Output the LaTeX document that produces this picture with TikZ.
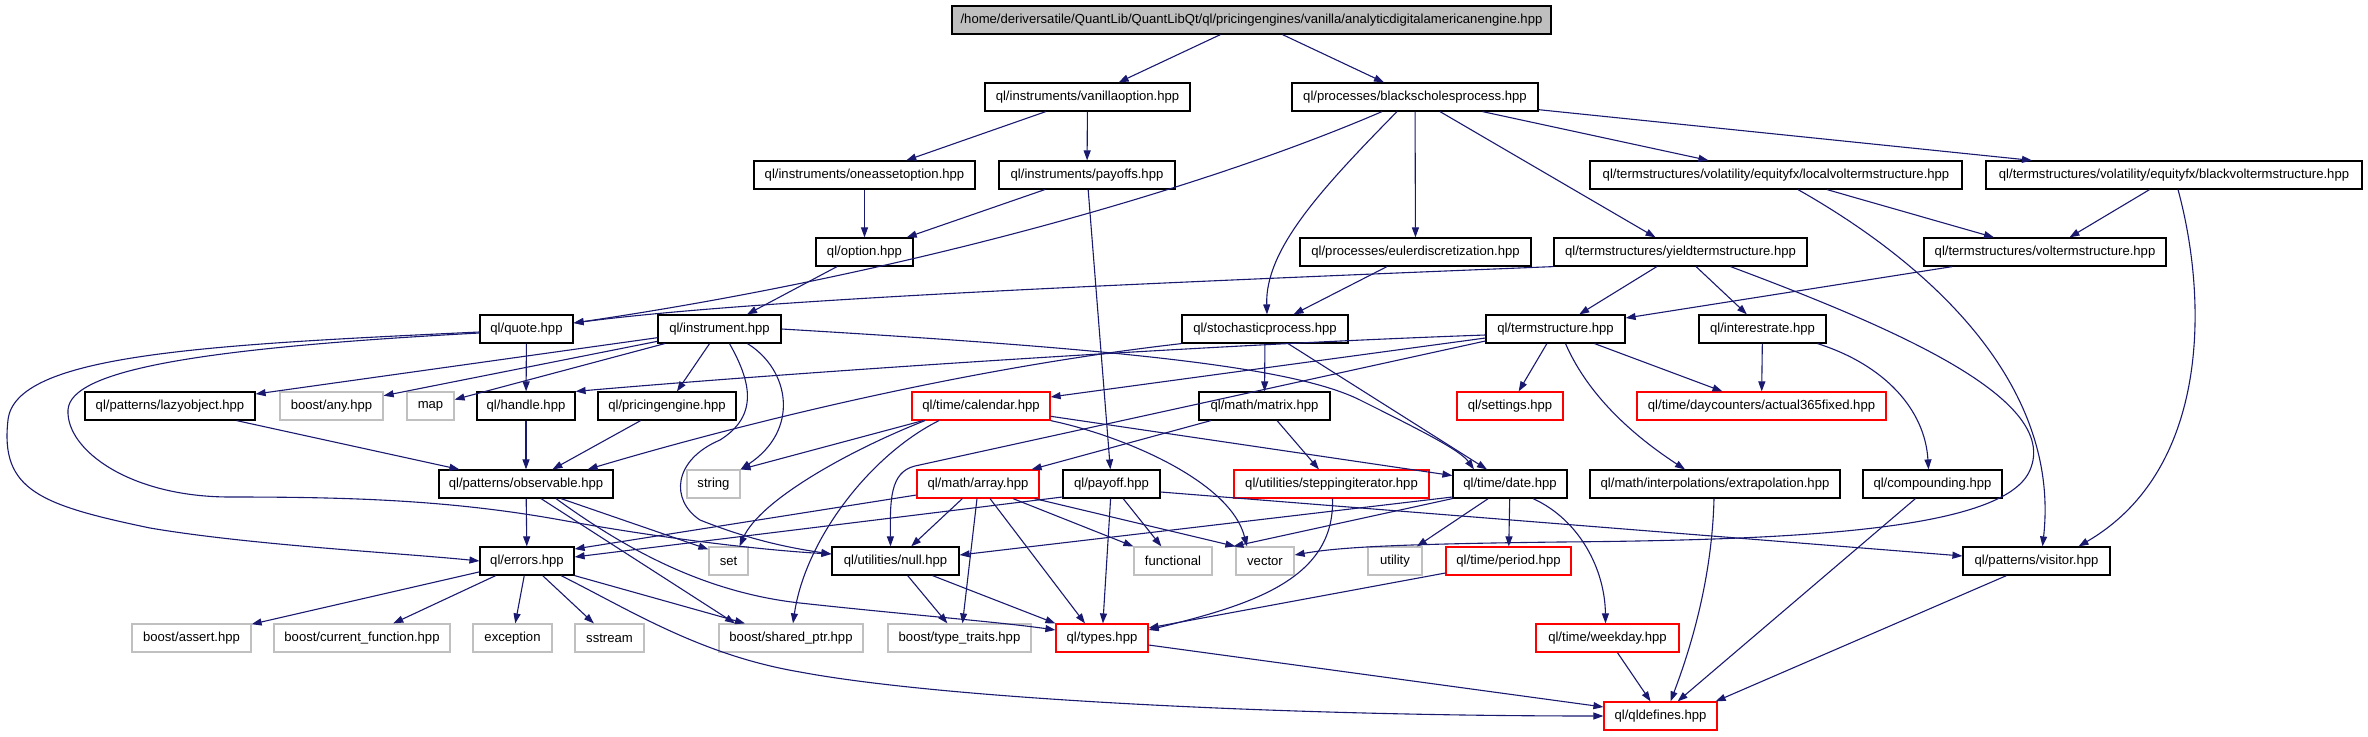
\documentclass[tikz,border=0pt]{standalone}
\usepackage{fontspec}
\setmainfont{Liberation Sans}
\usetikzlibrary{arrows.meta}
\definecolor{edgeblue}{HTML}{191970}
\definecolor{grayfill}{HTML}{BFBFBF}
\definecolor{grayline}{HTML}{C0C0C0}
\definecolor{redline}{HTML}{FF0000}
\newcommand\nodefont{\fontsize{13.1pt}{15pt}\selectfont}
\tikzset{
  nd/.style={draw=black, line width=1.2pt, minimum height=28pt, inner xsep=1pt, inner ysep=0pt, font=\nodefont, anchor=center, text=black},
  rd/.style={nd, draw=redline},
  gr/.style={nd, draw=grayline},
  mn/.style={nd, fill=grayfill},
  conn/.style={draw=edgeblue, line width=1.1pt, -{Triangle[length=10pt,width=7pt]}}
}
\begin{document}
\begin{tikzpicture}[x=1pt,y=-1pt]
\useasboundingbox (0,0) rectangle (2368,736);
% row 0
\node[mn, minimum width=599pt] (main) at (1251.5,20) {/home/deriversatile/QuantLib/QuantLibQt/ql/pricingengines/vanilla/analyticdigitalamericanengine.hpp};
% row 1
\node[nd, minimum width=205pt] (vanilla) at (1087.5,97) {ql/instruments/vanillaoption.hpp};
\node[nd, minimum width=246pt] (bsp) at (1415,97) {ql/processes/blackscholesprocess.hpp};
% row 2
\node[nd, minimum width=221pt] (oneasset) at (864.5,175) {ql/instruments/oneassetoption.hpp};
\node[nd, minimum width=176pt] (payoffs) at (1087,175) {ql/instruments/payoffs.hpp};
\node[nd, minimum width=372pt] (localvol) at (1776,175) {ql/termstructures/volatility/equityfx/localvoltermstructure.hpp};
\node[nd, minimum width=376pt] (blackvol) at (2174,175) {ql/termstructures/volatility/equityfx/blackvoltermstructure.hpp};
% row 3
\node[nd, minimum width=97pt] (option) at (864.5,252) {ql/option.hpp};
\node[nd, minimum width=231pt] (euler) at (1415.5,252) {ql/processes/eulerdiscretization.hpp};
\node[nd, minimum width=253pt] (yield) at (1680.5,252) {ql/termstructures/yieldtermstructure.hpp};
\node[nd, minimum width=242pt] (volts) at (2045,252) {ql/termstructures/voltermstructure.hpp};
% row 4
\node[nd, minimum width=93pt] (quote) at (526.5,329) {ql/quote.hpp};
\node[nd, minimum width=123pt] (instrument) at (719.5,329) {ql/instrument.hpp};
\node[nd, minimum width=166pt] (stoch) at (1265,329) {ql/stochasticprocess.hpp};
\node[nd, minimum width=139pt] (termst) at (1555.5,329) {ql/termstructure.hpp};
\node[nd, minimum width=127pt] (interest) at (1762.5,329) {ql/interestrate.hpp};
% row 5
\node[nd, minimum width=170pt] (lazy) at (170,406) {ql/patterns/lazyobject.hpp};
\node[gr, minimum width=103pt] (any) at (331.5,406) {boost/any.hpp};
\node[gr, minimum width=47pt] (map) at (430.5,406) {map};
\node[nd, minimum width=98pt] (handle) at (526,406) {ql/handle.hpp};
\node[nd, minimum width=138pt] (pe) at (667,406) {ql/pricingengine.hpp};
\node[rd, minimum width=138pt] (calendar) at (981,406) {ql/time/calendar.hpp};
\node[nd, minimum width=131pt] (matrix) at (1264.5,406) {ql/math/matrix.hpp};
\node[rd, minimum width=106pt] (settings) at (1510,406) {ql/settings.hpp};
\node[rd, minimum width=249pt] (act365) at (1761.5,406) {ql/time/daycounters/actual365fixed.hpp};
% row 6
\node[nd, minimum width=174pt] (observable) at (526,484) {ql/patterns/observable.hpp};
\node[gr, minimum width=53pt] (string) at (713.5,484) {string};
\node[rd, minimum width=122pt] (array) at (978,484) {ql/math/array.hpp};
\node[nd, minimum width=97pt] (payoff) at (1111.5,484) {ql/payoff.hpp};
\node[rd, minimum width=195pt] (stepping) at (1331.5,484) {ql/utilities/steppingiterator.hpp};
\node[nd, minimum width=114pt] (date) at (1510,484) {ql/time/date.hpp};
\node[nd, minimum width=250pt] (extrap) at (1715,484) {ql/math/interpolations/extrapolation.hpp};
\node[nd, minimum width=139pt] (compounding) at (1932.5,484) {ql/compounding.hpp};
% row 7
\node[nd, minimum width=94pt] (errors) at (527,561) {ql/errors.hpp};
\node[gr, minimum width=39pt] (set) at (728.5,561) {set};
\node[nd, minimum width=127pt] (null) at (895.5,561) {ql/utilities/null.hpp};
\node[gr, minimum width=78pt] (functional) at (1173,561) {functional};
\node[gr, minimum width=58pt] (vector) at (1265,561) {vector};
\node[gr, minimum width=54pt] (utility) at (1395,561) {utility};
\node[rd, minimum width=125pt] (period) at (1508.5,561) {ql/time/period.hpp};
\node[nd, minimum width=147pt] (visitor) at (2036.5,561) {ql/patterns/visitor.hpp};
% row 8
\node[gr, minimum width=119pt] (assert) at (191.5,638) {boost/assert.hpp};
\node[gr, minimum width=176pt] (curfunc) at (362,638) {boost/current\_function.hpp};
\node[gr, minimum width=79pt] (exception) at (512.5,638) {exception};
\node[gr, minimum width=69pt] (sstream) at (609.5,638) {sstream};
\node[gr, minimum width=144pt] (sharedptr) at (791,638) {boost/shared\_ptr.hpp};
\node[gr, minimum width=143pt] (typetraits) at (959.5,638) {boost/type\_traits.hpp};
\node[rd, minimum width=92pt] (types) at (1102,638) {ql/types.hpp};
\node[rd, minimum width=143pt] (weekday) at (1607.5,638) {ql/time/weekday.hpp};
% row 9
\node[rd, minimum width=113pt] (qldefines) at (1660.5,716) {ql/qldefines.hpp};

% ---------- connectors ----------
\draw[conn] (main) -- (vanilla);
\draw[conn] (main) -- (bsp);
\draw[conn] (vanilla) -- (oneasset);
\draw[conn] (vanilla) -- (payoffs);
\draw[conn] ([xshift=-33pt]bsp.south) .. controls (1200,190) and (900,275) .. ([yshift=6pt]quote.east);
\draw[conn] ([xshift=-18pt]bsp.south) .. controls (1320,190) and (1265,250) .. ([xshift=2pt]stoch.north);
\draw[conn] (bsp) -- (euler);
\draw[conn] (bsp) -- (yield);
\draw[conn] (bsp) -- (localvol);
\draw[conn] (bsp) -- (blackvol);
\draw[conn] (oneasset) -- (option);
\draw[conn] (payoffs) -- (option);
\draw[conn] (payoffs) -- (payoff);
\draw[conn] (localvol) -- (volts);
\draw[conn] ([xshift=22pt]localvol.south) .. controls (1940,270) and (2060,390) .. ([xshift=6pt]visitor.north);
\draw[conn] (blackvol) -- (volts);
\draw[conn] ([xshift=4pt]blackvol.south) .. controls (2208,300) and (2210,470) .. ([xshift=42pt]visitor.north);
\draw[conn] (option) -- (instrument);
\draw[conn] (euler) -- (stoch);
\draw[conn] (yield.south west) .. controls (1100,285) and (750,300) .. ([yshift=6pt]quote.east);
\draw[conn] (yield) -- (termst);
\draw[conn] (yield) -- (interest);
\draw[conn] ([xshift=50pt]yield.south) .. controls (1900,330) and (2060,400) .. (2030,470) .. controls (2005,530) and (1800,540) .. (1560,542) .. controls (1400,544) and (1340,547) .. ([yshift=6pt]vector.east);
\draw[conn] (volts) -- (termst);
\draw[conn] (quote) -- (handle);
\draw[conn] ([yshift=-3pt]quote.west) .. controls (200,345) and (15,355) .. (8,420) .. controls (0,490) and (40,505) .. (150,528) .. controls (250,545) and (400,553) .. (errors.west);
\draw[conn] ([yshift=-4pt]quote.west) .. controls (200,348) and (70,370) .. (68,410) .. controls (66,450) and (130,497) .. (230,497) .. controls (350,497) and (450,500) .. (561,520) .. controls (660,538) and (760,550) .. ([yshift=7pt]null.west);
\draw[conn] (instrument) -- (lazy);
\draw[conn] (instrument) -- (any);
\draw[conn] (instrument) -- (map);
\draw[conn] (instrument) -- (pe);
\draw[conn] ([xshift=28pt]instrument.south) .. controls (790,370) and (800,430) .. (string.north east);
\draw[conn] ([xshift=10pt]instrument.south) .. controls (750,380) and (760,415) .. (720,440) .. controls (673,460) and (670,500) .. (700,520) .. controls (750,540) and (790,548) .. ([yshift=7pt]null.west);
\draw[conn] (instrument.east) .. controls (1100,348) and (1290,365) .. (1360,400) .. controls (1420,430) and (1460,450) .. ([xshift=-36pt]date.north);
\draw[conn] (pe) -- (observable);
\draw[conn] (lazy) -- (observable);
\draw[conn] (handle) -- (observable);
\draw[conn] (stoch.south west) .. controls (950,370) and (720,430) .. ([xshift=-26pt]observable.north east);
\draw[conn] (stoch) -- (matrix);
\draw[conn] (stoch) -- (date);
\draw[conn] ([yshift=-6pt]termst.west) .. controls (1200,345) and (800,372) .. (handle.north east);
\draw[conn] ([yshift=-9pt]termst.west) -- ([yshift=9pt]calendar.east);
\draw[conn] ([yshift=-12pt]termst.west) -- (915,466) .. controls (890,472) and (890,500) .. ([xshift=-5pt]null.north);
\draw[conn] (termst) -- (settings);
\draw[conn] (termst) -- (act365);
\draw[conn] ([xshift=10pt]termst.south) .. controls (1590,400) and (1640,440) .. ([xshift=-30pt]extrap.north);
\draw[conn] (interest) -- (act365);
\draw[conn] ([xshift=55pt]interest.south) .. controls (1885,365) and (1925,410) .. ([xshift=-4pt]compounding.north);
\draw[conn] ([xshift=-58pt]calendar.south) -- (string.north east);
\draw[conn] ([xshift=-56pt]calendar.south) .. controls (850,450) and (760,500) .. ([xshift=11pt]set.north);
\draw[conn] ([xshift=-42pt]calendar.south) .. controls (870,455) and (805,540) .. ([xshift=2pt]sharedptr.north);
\draw[conn] (calendar.south east) .. controls (1120,435) and (1230,480) .. ([xshift=-18pt]vector.north);
\draw[conn] (calendar) -- (date);
\draw[conn] (matrix) -- (array);
\draw[conn] (matrix) -- (stepping);
\draw[conn] ([yshift=-11pt]array.west) -- ([yshift=12pt]errors.east);
\draw[conn] ([yshift=-13pt]payoff.west) -- ([yshift=4pt]errors.east);
\draw[conn] (array) -- (null);
\draw[conn] ([xshift=-1pt]array.south) -- ([xshift=3pt]typetraits.north);
\draw[conn] ([xshift=12pt]array.south) -- ([xshift=-17pt]types.north);
\draw[conn] ([xshift=35pt]array.south) -- (functional.north west);
\draw[conn] ([xshift=-5pt]array.south east) -- (vector.north west);
\draw[conn] (payoff) -- (types);
\draw[conn] (payoff) -- (functional);
\draw[conn] ([yshift=-8pt]payoff.east) -- ([yshift=5pt]visitor.west);
\draw[conn] ([xshift=1pt]stepping.south) .. controls (1335,580) and (1250,605) .. ([yshift=8pt]types.east);
\draw[conn] ([yshift=-13pt]date.west) -- ([yshift=6pt]null.east);
\draw[conn] (date.south west) -- ([xshift=-2pt]vector.north west);
\draw[conn] (date) -- (utility);
\draw[conn] (date) -- (period);
\draw[conn] ([xshift=23pt]date.south) .. controls (1580,520) and (1605,570) .. ([xshift=-2pt]weekday.north);
\draw[conn] ([yshift=-12pt]period.west) -- ([yshift=10pt]types.east);
\draw[conn] (weekday) -- (qldefines);
\draw[conn] ([yshift=-7pt]types.east) -- ([yshift=9pt]qldefines.west);
\draw[conn] ([xshift=34pt]errors.south) .. controls (630,610) and (700,655) .. (800,672) .. controls (950,700) and (1300,716) .. (qldefines.west);
\draw[conn] ([xshift=-1pt]extrap.south) .. controls (1712,580) and (1690,650) .. ([xshift=10pt]qldefines.north);
\draw[conn] (compounding) -- (qldefines);
\draw[conn] ([xshift=-30pt]visitor.south) -- ([xshift=-2pt]qldefines.north east);
\draw[conn] (null) -- (typetraits);
\draw[conn] ([xshift=37pt]null.south) -- (types.north west);
\draw[conn] (observable) -- (errors);
\draw[conn] ([xshift=35pt]observable.south) -- ([yshift=-3pt]set.north west);
\draw[conn] ([xshift=15pt]observable.south) -- ([xshift=-56pt]sharedptr.north);
\draw[conn] ([xshift=30pt]observable.south) .. controls (620,545) and (700,592) .. (800,603) .. controls (900,614) and (1000,622) .. ([yshift=8pt]types.west);
\draw[conn] (errors.south east) -- ([xshift=-46pt]sharedptr.north);
\draw[conn] (errors) -- (assert);
\draw[conn] (errors) -- (curfunc);
\draw[conn] (errors) -- (exception);
\draw[conn] (errors) -- (sstream);
\end{tikzpicture}
\end{document}
